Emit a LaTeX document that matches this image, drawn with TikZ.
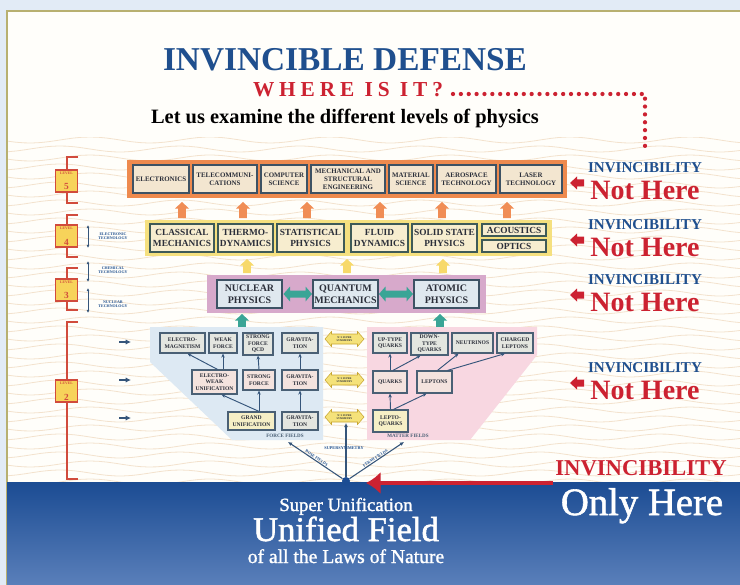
\documentclass[tikz,border=0pt]{standalone}
\usepackage{fontspec}
\setmainfont{Liberation Serif}
\usetikzlibrary{arrows.meta,calc}
\definecolor{navy}{HTML}{1F4F8E}
\definecolor{myred}{HTML}{CC2231}
\definecolor{orband}{HTML}{EE8A4E}
\definecolor{orarrow}{HTML}{F08D55}
\definecolor{yeband}{HTML}{F5E07F}
\definecolor{yearrow}{HTML}{F7D96A}
\definecolor{mauve}{HTML}{D7A9CB}
\definecolor{tealc}{HTML}{3AA596}
\definecolor{bluereg}{HTML}{DDE9F3}
\definecolor{pinkreg}{HTML}{F8D7E1}
\definecolor{bxline}{HTML}{3D5264}
\definecolor{b4line}{HTML}{3E5A58}
\definecolor{b2line}{HTML}{4A6075}
\definecolor{boxtext}{HTML}{2B2F3A}
\definecolor{b5fill}{HTML}{F3E6D0}
\definecolor{b4fill}{HTML}{F7EDCF}
\definecolor{b3fill}{HTML}{DFE8EF}
\definecolor{b2top}{HTML}{E4E6E0}
\definecolor{b2mid}{HTML}{F4E3DE}
\definecolor{b2bot}{HTML}{F6EFC6}
\definecolor{arrdark}{HTML}{35557A}
\definecolor{lvred}{HTML}{D14B3C}
\definecolor{lvfill}{HTML}{F7D35A}
\definecolor{ssfill}{HTML}{F5E27A}
\definecolor{ssline}{HTML}{C8A630}
\definecolor{wavec}{HTML}{F3E2CD}
\definecolor{outer}{HTML}{E2EBF6}
\definecolor{paper}{HTML}{FFFEFA}
\definecolor{olive}{HTML}{B8B070}
\definecolor{deepblue}{HTML}{1B4C93}
\definecolor{lightblue}{HTML}{5A7FBA}
\newcommand{\mybox}[7]{\node[#6, minimum width={(#4-#2)*0.75pt}, minimum height={(#5-#3)*0.75pt}] (#1) at ({(#2+#4)/2},{(#3+#5)/2}) {#7};}
% block arrow pointing up: x, ytip, length, colour
\newcommand{\blkup}[4]{\fill[#4] (#1,#2) -- ++(7,6.5) -- ++(-3.2,0) -- ++(0,{#3-6.5}) -- ++(-7.6,0) -- ++(0,{6.5-#3}) -- ++(-3.2,0) -- cycle;}
% block arrow pointing left: xtip, y, colour
\newcommand{\blkleft}[3]{\fill[#3] (#1,#2) -- ++(7,-6.5) -- ++(0,3) -- ++(7,0) -- ++(0,7) -- ++(-7,0) -- ++(0,3) -- cycle;}
% double block arrow: x1, x2, y, head half, shaft half, style
\newcommand{\blkdbl}[6]{\path[#6] (#1,#3) -- ({#1+6.5},{#3-#4}) -- ({#1+6.5},{#3-#5}) -- ({#2-6.5},{#3-#5}) -- ({#2-6.5},{#3-#4}) -- (#2,#3) -- ({#2-6.5},{#3+#4}) -- ({#2-6.5},{#3+#5}) -- ({#1+6.5},{#3+#5}) -- ({#1+6.5},{#3+#4}) -- cycle;}
\begin{document}
\begin{tikzpicture}[x=0.75pt,y=-0.75pt,
 b5/.style={draw=bxline,line width=1.2pt,fill=b5fill,inner sep=0pt,align=center,text=boxtext,font={\fontsize{5.2}{6}\selectfont\bfseries}},
 b4/.style={draw=b4line,line width=1.2pt,fill=b4fill,inner sep=0pt,align=center,text=boxtext,font={\fontsize{7}{8.2}\selectfont\bfseries}},
 b3/.style={draw=bxline,line width=1.2pt,fill=b3fill,inner sep=0pt,align=center,text=boxtext,font={\fontsize{7.5}{9}\selectfont\bfseries}},
 b2/.style={draw=b2line,line width=0.9pt,inner sep=0pt,align=center,text=boxtext,font={\fontsize{4.2}{4.9}\selectfont\bfseries}},
 b2a/.style={b2,fill=b2top}, b2b/.style={b2,fill=b2mid}, b2c/.style={b2,fill=b2bot},
 band/.style={inner sep=0pt},
 sstext/.style={align=center,inner sep=0pt,font={\fontsize{2}{2.4}\selectfont\bfseries},text=boxtext},
 l2arr/.style={draw=arrdark,line width=0.7pt,-{Stealth[length=3pt,width=2.6pt]}},
 lvl/.style={draw=lvred,line width=0.8pt,fill=lvfill,inner sep=0pt,align=center,text=lvred,minimum width=17pt,minimum height=16.5pt},
 brk/.style={draw=lvred,line width=0.9pt},
 tiny/.style={align=center,text=navy,font={\fontsize{3}{3.4}\selectfont\bfseries},inner sep=0pt},
 inv/.style={text=navy,font={\fontsize{11.3}{12}\selectfont\bfseries},inner sep=0pt},
 nh/.style={text=myred,font={\fontsize{21}{22}\selectfont\bfseries},inner sep=0pt},
 tdarr/.style={draw=arrdark,line width=0.6pt,{Latex[length=2.4pt,width=2.4pt]}-{Latex[length=2.4pt,width=2.4pt]}},
 sarr/.style={draw=arrdark,line width=0.8pt,-{Latex[length=3pt,width=3pt]}},
 larr/.style={draw=arrdark,line width=0.9pt,-{Latex[length=4pt,width=4pt]}},
 flab/.style={text=b2line,font={\fontsize{3.8}{4}\selectfont\bfseries},inner sep=0pt},
 wtxt/.style={text=white,inner sep=0pt,anchor=base}
]
\useasboundingbox (0,0) rectangle (740,585);
% background
\fill[outer] (0,0) rectangle (740,585);
\fill[paper] (7,11) rectangle (740,585);
\draw[olive,line width=0.8pt] (7,585) -- (7,11) -- (740,11);
\begin{scope}
\clip (8,138) rectangle (740,481);
\foreach \k in {0,...,38}{
  \draw[wavec,line width=0.6pt] plot[domain=8:740,samples=90] (\x,{140+\k*9+3*sin(3*\x+90*mod(\k,2))});
}
\end{scope}
\shade[top color=deepblue,bottom color=lightblue] (7,482) rectangle (740,585);

% titles
\node[text=navy,font={\fontsize{25}{26}\selectfont\bfseries},inner sep=0pt] (title) at (345,60) {INVINCIBLE DEFENSE};
\node[text=myred,font={\fontsize{16}{17}\selectfont\bfseries\addfontfeature{LetterSpace=23}},inner sep=0pt,anchor=base] (where) at (348,97) {WHERE IS IT?};
\node[text=black,font={\fontsize{15.3}{16}\selectfont\bfseries},inner sep=0pt,anchor=base] (letus) at (345,124) {Let us examine the different levels of physics};
\coordinate (d0) at (453,94);
\coordinate (d1) at (645,94);
\coordinate (d2) at (645,146);
\draw[myred,line width=3.2pt,line cap=round,dash pattern=on 0pt off 5.9pt] (d0) -- (d1) -- (d2);

% level 5
\mybox{band5}{127}{160}{567}{198}{band,fill=orband}{}
\mybox{el}{133}{165}{189}{193}{b5}{ELECTRONICS}
\mybox{tc}{193}{165}{257}{193}{b5}{TELECOMMUNI-\\CATIONS}
\mybox{cs}{261}{165}{307}{193}{b5}{COMPUTER\\SCIENCE}
\mybox{me}{311}{165}{385}{193}{b5}{MECHANICAL AND\\STRUCTURAL\\ENGINEERING}
\mybox{ms}{389}{165}{433}{193}{b5}{MATERIAL\\SCIENCE}
\mybox{ae}{437}{165}{496}{193}{b5}{AEROSPACE\\TECHNOLOGY}
\mybox{la}{500}{165}{562}{193}{b5}{LASER\\TECHNOLOGY}
\foreach \xx in {182,243,307,380,442,507}{
  \blkup{\xx}{202}{16}{orarrow}
}

% level 4
\mybox{band4}{145}{220}{552}{256}{band,fill=yeband}{}
\mybox{cm}{150}{224}{214}{252}{b4}{CLASSICAL\\MECHANICS}
\mybox{td}{218}{224}{273}{252}{b4}{THERMO-\\DYNAMICS}
\mybox{sp}{277}{224}{344}{252}{b4}{STATISTICAL\\PHYSICS}
\mybox{fd}{351}{224}{408}{252}{b4}{FLUID\\DYNAMICS}
\mybox{ss}{412}{224}{477}{252}{b4}{SOLID STATE\\PHYSICS}
\mybox{ac}{482}{224}{546}{236}{b4}{ACOUSTICS}
\mybox{op}{482}{240}{546}{252}{b4}{OPTICS}
\foreach \xx in {247,347,443}{
  \blkup{\xx}{259}{14}{yearrow}
}

% level 3
\mybox{band3}{207}{275}{486}{313}{band,fill=mauve}{}
\mybox{np}{217}{280}{282}{308}{b3}{NUCLEAR\\PHYSICS}
\mybox{qm}{313}{280}{378}{308}{b3}{QUANTUM\\MECHANICS}
\mybox{ap}{414}{280}{479}{308}{b3}{ATOMIC\\PHYSICS}
\blkdbl{283.5}{312}{294}{7.5}{3.5}{fill=tealc}
\blkdbl{379}{413}{294}{7.5}{3.5}{fill=tealc}
\blkup{242}{314}{14}{tealc}
\blkup{440}{314}{14}{tealc}

% level 2 regions
\fill[bluereg] (150,327) -- (323,327) -- (323,440) -- (232,440) -- (150,362) -- cycle;
\fill[pinkreg] (367,327) -- (537,327) -- (537,355) -- (470,440) -- (367,440) -- cycle;
\node[flab] (ffl) at (285,436) {FORCE FIELDS};
\node[flab] (mfl) at (408,436) {MATTER FIELDS};

% force field boxes
\mybox{em}{160}{333}{205}{353}{b2a}{ELECTRO-\\MAGNETISM}
\mybox{wf}{209}{333}{237}{353}{b2a}{WEAK\\FORCE}
\mybox{qcd}{243}{333}{273}{355}{b2a}{STRONG\\FORCE\\QCD}
\mybox{g1}{282}{333}{318}{353}{b2a}{GRAVITA-\\TION}
\mybox{ew}{192}{370}{237}{394}{b2b}{ELECTRO-\\WEAK\\UNIFICATION}
\mybox{sf}{243}{370}{275}{390}{b2b}{STRONG\\FORCE}
\mybox{g2}{282}{370}{318}{390}{b2b}{GRAVITA-\\TION}
\mybox{gu}{228}{412}{275}{430}{b2c}{GRAND\\UNIFICATION}
\mybox{g3}{282}{412}{318}{430}{b2a}{GRAVITA-\\TION}
\draw[l2arr] (gu.north -| sf.south) -- (sf.south);
\draw[l2arr] (gu.north -| sf.south) -- ($(ew.south)+(7,0)$);
\draw[l2arr] (ew.north -| wf.south) -- (wf.south);
\draw[l2arr] ($(ew.north)+(3,0)$) -- ($(em.south)+(5,0)$);
\draw[l2arr] (sf.north) -- (qcd.south);
\draw[l2arr] (g3.north) -- (g2.south);
\draw[l2arr] (g2.north) -- (g1.south);

% matter field boxes
\mybox{ut}{373}{333}{407}{353}{b2a}{UP-TYPE\\QUARKS}
\mybox{dt}{411}{333}{448}{355}{b2a}{DOWN-\\TYPE\\QUARKS}
\mybox{nu}{452}{333}{493}{353}{b2a}{NEUTRINOS}
\mybox{cl}{497}{333}{533}{353}{b2a}{CHARGED\\LEPTONS}
\mybox{qk}{373}{371}{407}{393}{b2b}{QUARKS}
\mybox{lp}{417}{371}{452}{393}{b2b}{LEPTONS}
\mybox{lq}{373}{410}{408}{432}{b2c}{LEPTO-\\QUARKS}
\draw[l2arr] (lq.north) -- (qk.south);
\draw[l2arr] ($(lq.north)+(3,0)$) -- ($(lp.south)+(-8,0)$);
\draw[l2arr] (qk.north) -- (ut.south);
\draw[l2arr] ($(qk.north)+(3,0)$) -- ($(dt.south)+(-9,0)$);
\draw[l2arr] ($(lp.north)+(3,0)$) -- ($(nu.south)+(-14,0)$);
\draw[l2arr] ($(lp.north east)+(-5,0)$) -- ($(cl.south)+(-10,0)$);

% supersymmetry arrows
\foreach \yy/\nm in {339/s1,380/s2,417/s3}{
  \blkdbl{325}{364}{\yy}{7.5}{5}{fill=ssfill,draw=ssline,line width=0.4pt}
  \node[sstext] (\nm) at (344.5,\yy) {N=1 SUPER\\SYMMETRY};
}
\coordinate (s3b) at (346,423);

% bottom fan
\node[circle,fill=deepblue,inner sep=0pt,minimum size=6pt] (dot) at (346,481) {};
\coordinate (bose) at (288,442);
\coordinate (fermi) at (404,442);
\draw[sarr] (dot) -- (s3b);
\draw[sarr] (dot) -- (bose) node[midway,sloped,above=0.5pt,text=navy,font={\fontsize{3}{3}\selectfont\bfseries},inner sep=0pt] (bosel) {BOSE FIELDS};
\draw[sarr] (dot) -- (fermi) node[midway,sloped,above=0.5pt,text=navy,font={\fontsize{3}{3}\selectfont\bfseries},inner sep=0pt] (fermil) {FERMI FIELDS};
\node[text=navy,font={\fontsize{3.2}{3.2}\selectfont\bfseries},inner sep=0pt] (susy) at (344,448) {SUPERSYMMETRY};

% left levels
\draw[brk] (78,157) -- (67,157) -- (67,203) -- (78,203);
\draw[brk] (78,215) -- (67,215) -- (67,257) -- (78,257);
\draw[brk] (78,268) -- (67,268) -- (67,310) -- (78,310);
\draw[brk] (78,322) -- (67,322) -- (67,479) -- (78,479);
\node[lvl] (lv5) at (66.5,181) {{\fontsize{2.8}{3}\selectfont\bfseries LEVEL}\\[-0.3pt]{\fontsize{7}{7}\selectfont\bfseries 5}};
\node[lvl] (lv4) at (66.5,236) {{\fontsize{2.8}{3}\selectfont\bfseries LEVEL}\\[-0.3pt]{\fontsize{7}{7}\selectfont\bfseries 4}};
\node[lvl] (lv3) at (66.5,290) {{\fontsize{2.8}{3}\selectfont\bfseries LEVEL}\\[-0.3pt]{\fontsize{7}{7}\selectfont\bfseries 3}};
\node[lvl] (lv2) at (66.5,391) {{\fontsize{2.8}{3}\selectfont\bfseries LEVEL}\\[-0.3pt]{\fontsize{7}{7}\selectfont\bfseries 2}};
\node[tiny] (et) at (113,236) {ELECTRONIC\\TECHNOLOGY};
\node[tiny] (ct) at (113,270) {CHEMICAL\\TECHNOLOGY};
\node[tiny] (nt) at (113,304) {NUCLEAR\\TECHNOLOGY};
\coordinate (ea) at (88,225); \coordinate (eb) at (88,248);
\coordinate (ca) at (88,261); \coordinate (cb) at (88,282);
\coordinate (na) at (88,288); \coordinate (nb) at (88,313);
\draw[tdarr] (ea) -- (eb);
\draw[tdarr] (ca) -- (cb);
\draw[tdarr] (na) -- (nb);
\foreach \yy/\nm in {342/ra,380/rb,418/rc}{
  \coordinate (\nm1) at (119,\yy); \coordinate (\nm2) at (131,\yy);
  \draw[larr] (\nm1) -- (\nm2);
}

% right labels
\foreach \yi/\yn/\ya/\nm in {168/190/183/a,225/247/240/b,280/302/295/c,368/390/383/d}{
  \node[inv] (inv\nm) at (645,\yi) {INVINCIBILITY};
  \node[nh] (nh\nm) at (645,\yn) {Not Here};
  \blkleft{570}{\ya}{myred}
}

% bottom
\node[text=myred,font={\fontsize{17}{18}\selectfont\bfseries},inner sep=0pt] (invb) at (641,468) {INVINCIBILITY};
\node[wtxt,font={\fontsize{29}{30}\selectfont\addfontfeature{FakeBold=1.5}}] (only) at (642,515) {Only Here};
\coordinate (rs) at (553,483);
\coordinate (re) at (366,483);
\draw[myred,line width=2.3pt,-{Latex[length=11pt,width=17pt]}] (rs) -- (re);
\node[wtxt,font={\fontsize{14}{15}\selectfont\addfontfeature{FakeBold=1.5}}] (su) at (346,511) {Super Unification};
\node[wtxt,font={\fontsize{26}{27}\selectfont\addfontfeature{FakeBold=1.5}}] (uf) at (346,541) {Unified Field};
\node[wtxt,font={\fontsize{14.7}{15}\selectfont\addfontfeature{FakeBold=1.2}}] (ol) at (346,563) {of all the Laws of Nature};
\end{tikzpicture}
\end{document}
